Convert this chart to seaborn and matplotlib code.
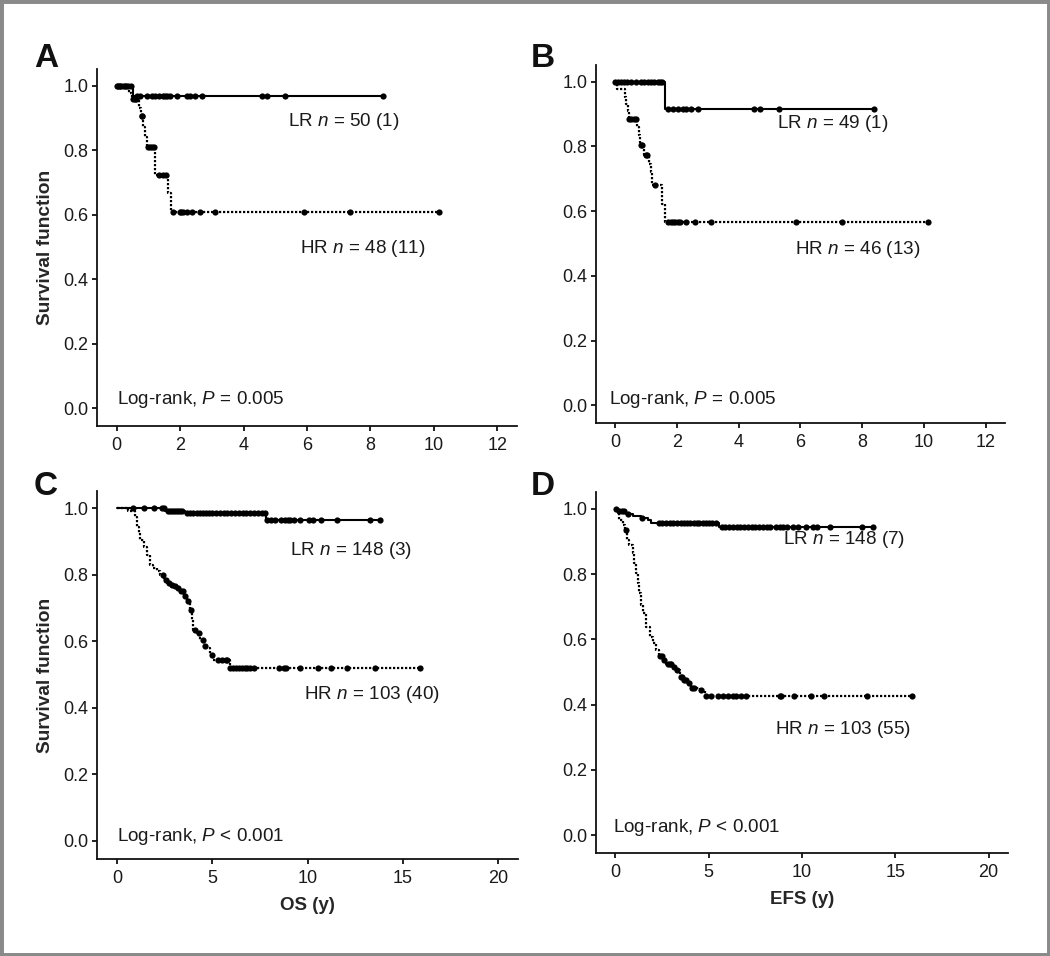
import numpy as np
import pandas as pd
import matplotlib
matplotlib.use("Agg")
import matplotlib.pyplot as plt
from matplotlib.patches import Rectangle
import seaborn as sns

sns.set_theme(style="ticks")
plt.rcParams['font.family'] = ['Liberation Sans', 'DejaVu Sans']
plt.rcParams['mathtext.fontset'] = 'custom'
plt.rcParams['mathtext.it'] = 'Liberation Sans:italic'
plt.rcParams['mathtext.rm'] = 'Liberation Sans'

# ---- panel A: OS, small cohort ----
A_LR_T = [0, 0.52]
A_LR_S = [1.0, 0.969]
A_LR_CENS = [0.0, 0.05, 0.1, 0.2, 0.28, 0.35, 0.45, 0.63, 0.74, 0.95, 1.11, 1.21, 1.32,
             1.47, 1.53, 1.58, 1.68, 1.89, 2.21, 2.32, 2.47, 2.68, 4.58, 4.74, 5.32, 8.4]
A_HR_T = [0, 0.40, 0.47, 0.70, 0.76, 0.84, 0.90, 0.95, 1.21, 1.62, 1.70]
A_HR_S = [1.0, 0.979, 0.958, 0.932, 0.905, 0.873, 0.842, 0.811, 0.723, 0.666, 0.609]
A_HR_CENS = [0.1, 0.25, 0.52, 0.58, 0.62, 0.78, 0.80, 1.0, 1.05, 1.12, 1.16, 1.32, 1.45,
             1.55, 1.78, 1.98, 2.03, 2.08, 2.21, 2.37, 2.61, 3.11, 5.89, 7.37, 10.16]

# ---- panel B: EFS, small cohort ----
B_LR_T = [0, 1.61]
B_LR_S = [1.0, 0.917]
B_LR_CENS = [0.0, 0.08, 0.18, 0.29, 0.37, 0.51, 0.67, 0.83, 0.94, 1.05, 1.16, 1.27,
             1.38, 1.45, 1.52, 1.70, 1.86, 2.02, 2.18, 2.29, 2.45, 2.67, 4.51, 4.68, 5.30, 8.39]
B_HR_T = [0, 0.05, 0.30, 0.35, 0.40, 0.43, 0.72, 0.76, 0.80, 0.94, 1.08, 1.16, 1.20, 1.52, 1.62]
B_HR_S = [1.0, 0.979, 0.954, 0.93, 0.909, 0.886, 0.861, 0.835, 0.804, 0.773, 0.747,
          0.721, 0.680, 0.623, 0.566]
B_HR_CENS = [0.46, 0.52, 0.60, 0.66, 0.84, 0.88, 0.98, 1.02, 1.30, 1.70, 1.81, 1.88,
             1.95, 2.02, 2.11, 2.29, 2.59, 3.09, 5.87, 7.33, 10.14]

# ---- panel C: OS, large cohort ----
C_LR_T = [0, 2.55, 3.59, 7.84]
C_LR_S = [1.0, 0.993, 0.985, 0.964]
C_LR_CENS = [0.87, 1.43, 1.96, 2.36, 2.45, 2.7, 2.8, 2.9, 3.0, 3.1, 3.2, 3.3, 3.4, 3.7,
             3.85, 4.0, 4.2, 4.35, 4.5, 4.7, 4.85, 5.0, 5.2, 5.4, 5.6, 5.8, 6.0, 6.2, 6.4,
             6.6, 6.8, 7.0, 7.2, 7.4, 7.6, 7.75, 7.9, 8.1, 8.3, 8.6, 8.8, 9.0, 9.1, 9.3,
             9.6, 10.1, 10.3, 10.7, 11.55, 13.26, 13.82]
C_HR_T = [0, 0.56, 0.96, 1.05, 1.14, 1.22, 1.40, 1.57, 1.75, 1.92, 2.10, 2.27, 2.45, 2.62,
          2.80, 2.97, 3.15, 3.32, 3.50, 3.67, 3.85, 3.94, 4.02, 4.20, 4.37, 4.55, 4.72,
          4.90, 5.07, 5.91]
C_HR_S = [1.0, 0.993, 0.975, 0.945, 0.925, 0.905, 0.885, 0.86, 0.83, 0.82, 0.81, 0.80,
          0.785, 0.775, 0.77, 0.765, 0.76, 0.75, 0.735, 0.72, 0.695, 0.665, 0.635, 0.625,
          0.605, 0.585, 0.58, 0.56, 0.545, 0.519]
C_HR_CENS = [2.4, 2.6, 2.75, 2.9, 3.05, 3.2, 3.35, 3.45, 3.6, 3.75, 3.9, 4.1, 4.3, 4.5,
             4.65, 5.0, 5.3, 5.5, 5.7, 5.8, 5.95, 6.1, 6.25, 6.4, 6.55, 6.7, 6.85, 7.0,
             7.17, 8.49, 8.75, 8.89, 9.62, 10.53, 11.25, 12.07, 13.56, 15.92]

# ---- panel D: EFS, large cohort ----
D_LR_T = [0, 0.15, 0.57, 0.93, 1.38, 1.74, 1.92, 5.55]
D_LR_S = [1.0, 0.993, 0.986, 0.979, 0.972, 0.965, 0.958, 0.946]
D_LR_CENS = [0.05, 0.2, 0.35, 0.45, 0.7, 1.4, 2.36, 2.5, 2.7, 2.9, 3.1, 3.3, 3.5, 3.7,
             3.85, 4.0, 4.2, 4.35, 4.5, 4.7, 4.85, 5.0, 5.2, 5.4, 5.7, 5.9, 6.1, 6.3, 6.5,
             6.7, 6.9, 7.1, 7.3, 7.5, 7.7, 7.9, 8.1, 8.3, 8.6, 8.8, 9.0, 9.2, 9.5, 9.8,
             10.2, 10.6, 10.8, 11.5, 13.2, 13.82]
D_HR_T = [0, 0.21, 0.39, 0.54, 0.61, 0.75, 0.93, 1.02, 1.11, 1.20, 1.29, 1.38, 1.47,
          1.65, 1.83, 2.01, 2.18, 2.36, 2.54, 2.72, 3.08, 3.26, 3.44, 3.62, 3.89, 4.06,
          4.51, 4.78]
D_HR_S = [1.0, 0.966, 0.951, 0.936, 0.905, 0.89, 0.864, 0.833, 0.803, 0.772, 0.741,
          0.706, 0.68, 0.639, 0.608, 0.588, 0.567, 0.549, 0.537, 0.525, 0.516, 0.506,
          0.486, 0.477, 0.465, 0.450, 0.445, 0.426]
D_HR_CENS = [0.55, 2.4, 2.5, 2.6, 2.8, 2.9, 3.0, 3.15, 3.3, 3.5, 3.55, 3.7, 3.8, 3.95,
             4.1, 4.2, 4.6, 4.85, 5.14, 5.5, 5.77, 6.04, 6.3, 6.48, 6.75, 7.0, 8.8, 8.9,
             9.56, 10.5, 11.17, 13.46, 15.88]

LR_LABELS = ["LR $n$ = 50 (1)", "LR $n$ = 49 (1)", "LR $n$ = 148 (3)", "LR $n$ = 148 (7)"]
HR_LABELS = ["HR $n$ = 48 (11)", "HR $n$ = 46 (13)", "HR $n$ = 103 (40)", "HR $n$ = 103 (55)"]
PVALS = ["Log-rank, $P$ = 0.005", "Log-rank, $P$ = 0.005",
         "Log-rank, $P$ < 0.001", "Log-rank, $P$ < 0.001"]
PANEL_LETTERS = ["A", "B", "C", "D"]
XLABELS = ["", "", "OS (y)", "EFS (y)"]


def km_frame(times, surv, cens):
    """step curve extended to the last censored time"""
    end = max(max(cens), times[-1])
    df = pd.DataFrame({"t": list(times) + [end], "s": list(surv) + [surv[-1]]})
    idx = np.searchsorted(times, cens, side="right") - 1
    cdf = pd.DataFrame({"t": cens, "s": np.array(surv)[idx]})
    return df, cdf


def draw_km(ax, times, surv, cens, ls, lw):
    line, marks = km_frame(times, surv, cens)
    sns.lineplot(data=line, x="t", y="s", ax=ax, color="black", linestyle=ls,
                 linewidth=lw, drawstyle="steps-post", estimator=None, sort=False)
    sns.scatterplot(data=marks, x="t", y="s", ax=ax, color="black", s=20,
                    marker="o", linewidth=0, zorder=3)


fig = plt.figure(figsize=(10.5, 9.56), dpi=100)
W, H = 1050, 956
# pixel boxes: left, right, top, bottom
boxes = [(97, 517, 69, 426), (596, 1005, 65, 423), (97, 518, 491, 859), (596, 1008, 492, 853)]
curves = [
    (A_LR_T, A_LR_S, A_LR_CENS, A_HR_T, A_HR_S, A_HR_CENS),
    (B_LR_T, B_LR_S, B_LR_CENS, B_HR_T, B_HR_S, B_HR_CENS),
    (C_LR_T, C_LR_S, C_LR_CENS, C_HR_T, C_HR_S, C_HR_CENS),
    (D_LR_T, D_LR_S, D_LR_CENS, D_HR_T, D_HR_S, D_HR_CENS),
]
xmax = [12, 12, 20, 20]
xstep = [2, 2, 5, 5]
lr_pos = [(5.4, 0.888), (5.24, 0.871), (9.06, 0.872), (8.99, 0.905)]
hr_pos = [(5.78, 0.495), (5.82, 0.483), (9.8, 0.44), (8.54, 0.324)]
p_pos = [(0.0, 0.028), (-0.19, 0.017), (0.03, 0.012), (-0.14, 0.022)]
letter_pos = [(34, 67), (531, 67), (34, 495), (531, 495)]

for i, (l, r, t, b) in enumerate(boxes):
    ax = fig.add_axes([l / W, 1 - b / H, (r - l) / W, (b - t) / H])
    lt, ls_, lc, ht, hs, hc = curves[i]
    draw_km(ax, ht, hs, hc, (0, (1, 0.8)), 1.6)
    draw_km(ax, lt, ls_, lc, "-", 1.5)

    pad = xmax[i] * 0.052
    ax.set_xlim(-pad, xmax[i] + pad)
    ax.set_ylim(-0.055, 1.052)
    ax.set_xticks(np.arange(0, xmax[i] + 1, xstep[i]))
    ax.set_yticks(np.arange(0, 1.01, 0.2))
    ax.set_yticklabels([f"{v:.1f}" for v in np.arange(0, 1.01, 0.2)])
    sns.despine(ax=ax)
    for sp in ["left", "bottom"]:
        ax.spines[sp].set_linewidth(1.3)
        ax.spines[sp].set_color("#111111")
    ax.tick_params(axis="both", direction="out", length=3.5, width=1.3, color="#111111",
                   labelsize=13, labelcolor="#1a1a1a")
    ax.tick_params(axis="x", pad=4.5)
    ax.tick_params(axis="y", pad=2.5)

    ax.set_xlabel(XLABELS[i], fontsize=13.5, fontweight="bold", labelpad=7)
    ax.set_ylabel("Survival function" if i % 2 == 0 else "", fontsize=13.8,
                  fontweight="bold", labelpad=7)

    ax.text(*lr_pos[i], LR_LABELS[i], fontsize=13.6, va="center", ha="left", color="#1a1a1a")
    ax.text(*hr_pos[i], HR_LABELS[i], fontsize=13.6, va="center", ha="left", color="#1a1a1a")
    ax.text(*p_pos[i], PVALS[i], fontsize=13.6, va="center", ha="left", color="#1a1a1a")

    lx, ly = letter_pos[i]
    fig.text(lx / W, 1 - ly / H, PANEL_LETTERS[i], fontsize=24, fontweight="bold",
             ha="left", va="baseline", color="#111111")

fig.patches.append(Rectangle((0, 0), 1, 1, transform=fig.transFigure, fill=False,
                             edgecolor="#8a8a8a", linewidth=5))

fig.savefig("out.png", dpi=100, facecolor="white")
